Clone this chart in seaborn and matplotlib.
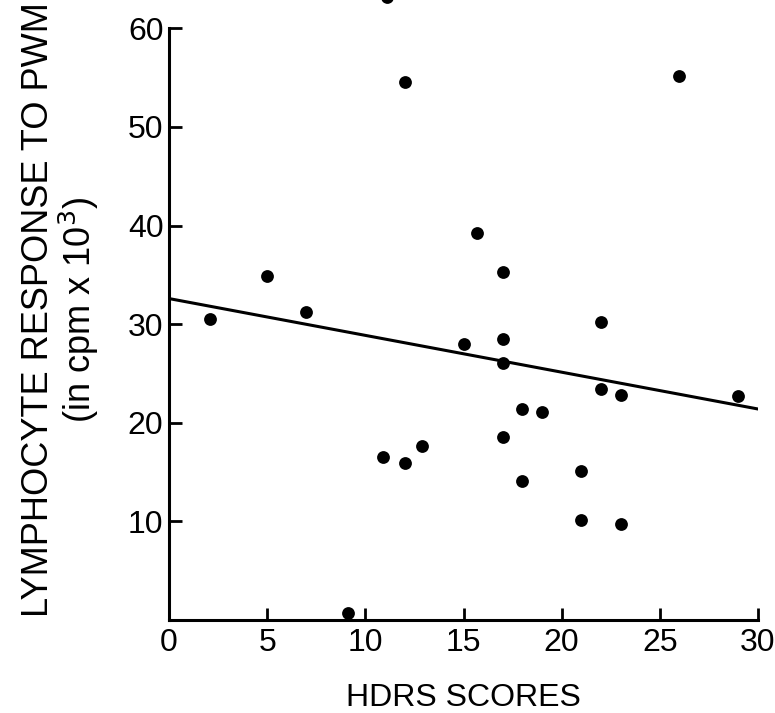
import matplotlib
matplotlib.use("Agg")
import matplotlib.pyplot as plt
import seaborn as sns
import pandas as pd

# Data
hdrs = [2.1, 5.0, 7.0, 9.1, 10.9, 11.1, 12.0, 12.0, 12.9, 15.0, 15.7, 17.0, 17.0, 17.0,
        17.0, 18.0, 18.0, 19.0, 21.0, 21.0, 22.0, 22.0, 23.0, 23.0, 26.0, 29.0]
pwm = [30.5, 34.9, 31.2, 0.7, 16.5, 63.2, 54.6, 15.9, 17.6, 28.0, 39.2, 35.3, 28.5, 26.1,
       18.6, 21.4, 14.1, 21.1, 15.1, 10.1, 30.2, 23.4, 22.8, 9.7, 55.2, 22.7]
fit_x = [0, 30]
fit_y = [32.6, 21.4]
x_ticks = [0, 5, 10, 15, 20, 25, 30]
y_ticks = [10, 20, 30, 40, 50, 60]

df = pd.DataFrame({"HDRS": hdrs, "PWM": pwm})
fit = pd.DataFrame({"x": fit_x, "y": fit_y})

sns.set_theme(style="white")
plt.rcParams["font.family"] = ["Liberation Sans", "DejaVu Sans"]

W, H = 775, 713
fig = plt.figure(figsize=(W / 100, H / 100), dpi=100)
left = 169 / W
right = 758 / W
bottom = 1 - 620 / H
ax = fig.add_axes([left, bottom, right - left, 1 - bottom])

ax.set_xlim(0, 30)
ax.set_ylim(0, 620 / 9.86)

sns.lineplot(data=fit, x="x", y="y", ax=ax, color="black", linewidth=2.2)
sns.scatterplot(data=df, x="HDRS", y="PWM", ax=ax, color="black", s=85,
                edgecolor="black", linewidth=0, zorder=3, clip_on=False)

for s in ["top", "right"]:
    ax.spines[s].set_visible(False)
for s in ["left", "bottom"]:
    ax.spines[s].set_linewidth(2.2)
    ax.spines[s].set_color("black")
ax.spines["left"].set_bounds(0, 60)
ax.spines["bottom"].set_bounds(0, 30)

ax.set_xticks(x_ticks)
ax.set_yticks(y_ticks)
ax.tick_params(axis="both", direction="in", length=9, width=2.0, colors="black",
               labelsize=23, pad=6, left=True, bottom=True)
ax.tick_params(axis="y", pad=4)

ax.set_xlabel("HDRS SCORES", fontsize=23, labelpad=18, color="black")
ax.set_ylabel("LYMPHOCYTE RESPONSE TO PWM\n(in cpm x 10$^3$)", fontsize=26,
              labelpad=19, color="black", linespacing=1.05)

fig.savefig("out.png", dpi=100, facecolor="white")
